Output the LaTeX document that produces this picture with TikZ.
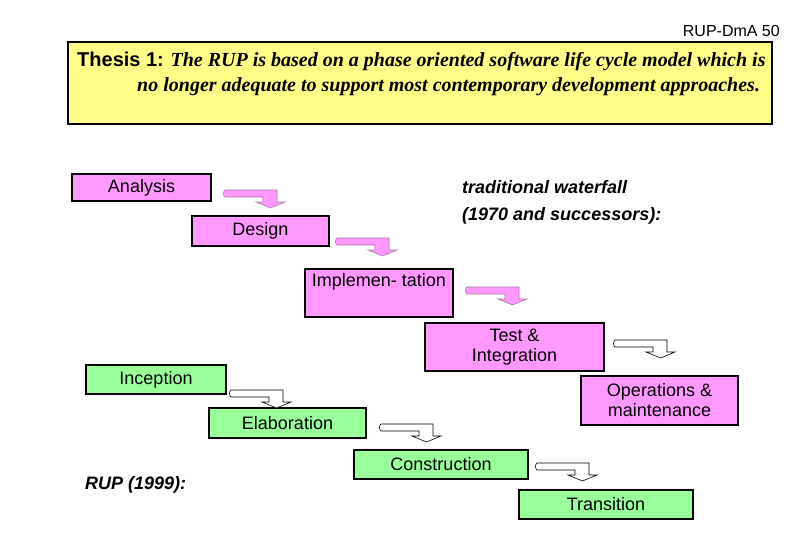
\documentclass[tikz,border=0pt]{standalone}
\usepackage{fontspec}
\setmainfont{Liberation Serif}
\setsansfont{Liberation Sans}
\definecolor{phasepink}{RGB}{255,153,255}
\definecolor{phasegreen}{RGB}{153,255,153}
\definecolor{thesisyellow}{RGB}{255,255,136}
\definecolor{arrowrim}{RGB}{165,120,165}

\begin{document}
\begin{tikzpicture}[
    x=1pt, y=-1pt,
    font=\sffamily\fontsize{18}{20}\selectfont,
    phase box/.style={
        draw=black, line width=1.6pt, inner sep=0pt, align=center
    },
    waterfall box/.style={phase box, fill=phasepink},
    rup box/.style={phase box, fill=phasegreen},
    waterfall arrow/.style={draw=arrowrim, fill=phasepink, line width=0.6pt},
    rup arrow/.style={draw=black, fill=white, line width=0.6pt},
    pics/bent arrow/.style={code={
        \draw[line join=miter, #1] (0,0) -- (52,0) -- (52,12) -- (60,12)
            -- (45.5,18) -- (31,12) -- (38,12) -- (38,7) -- (0,7)
            .. controls (-2,6) and (-2,1) .. (0,0) -- cycle;
    }}
]
    \useasboundingbox[fill=white] (0,0) rectangle (810,540);

    % slide number and thesis
    \node[anchor=base east, inner sep=0pt, font=\sffamily\fontsize{16}{18}\selectfont]
        (slideno) at (780,37) {RUP-DmA 50};
    \node[draw=black, line width=1.6pt, fill=thesisyellow, inner sep=0pt,
          minimum width=704pt, minimum height=82pt] (thesis) at (420,83) {};
    \node[anchor=base west, inner sep=0pt] (thesisA) at (77,67)
        {{\bfseries\fontsize{20}{24}\selectfont Thesis 1:}
         \rmfamily\bfseries\itshape\fontsize{20}{24}\selectfont
         The RUP is based on a phase oriented software life cycle model which is};
    \node[anchor=base west, inner sep=0pt] (thesisB) at (137,92)
        {\rmfamily\bfseries\itshape\fontsize{20}{24}\selectfont
         no longer adequate to support most contemporary development approaches.};

    % traditional waterfall
    \node[anchor=north west, inner sep=0pt, align=left,
          font=\sffamily\bfseries\itshape\fontsize{18}{27}\selectfont]
        (waterfall) at (462,180) {traditional waterfall\\(1970 and successors):};

    \node[waterfall box, minimum width=139pt, minimum height=27pt] (analysis)
        at (141.5,187.5) {Analysis};
    \node[waterfall box, minimum width=137pt, minimum height=30pt] (design)
        at (260.5,231) {Design};
    \node[waterfall box, minimum width=148pt, minimum height=48pt] (implementation)
        at (379,293) {Implemen- tation\\\strut};
    \node[waterfall box, minimum width=179pt, minimum height=48pt] (test)
        at (514.5,347) {Test \&\\Integration};
    \node[waterfall box, minimum width=157pt, minimum height=49pt] (operations)
        at (659.5,400.5) {Operations \&\\maintenance};

    \pic at (225,190) {bent arrow=waterfall arrow};
    \pic at (337,238) {bent arrow=waterfall arrow};
    \pic at (467,287) {bent arrow=waterfall arrow};
    \pic at (615,340) {bent arrow=rup arrow};

    % RUP
    \node[anchor=base west, inner sep=0pt, font=\sffamily\bfseries\itshape\fontsize{18}{20}\selectfont]
        (rup) at (85,489) {RUP (1999):};

    \node[rup box, minimum width=140pt, minimum height=29pt] (inception)
        at (156,379.5) {Inception};
    \node[rup box, minimum width=157pt, minimum height=30pt] (elaboration)
        at (287.5,423) {Elaboration};
    \node[rup box, minimum width=174pt, minimum height=29pt] (construction)
        at (441,464.5) {Construction};
    \node[rup box, minimum width=174pt, minimum height=29pt] (transition)
        at (606,504.5) {Transition};

    \pic at (231,390) {bent arrow=rup arrow};
    \pic at (381,424) {bent arrow=rup arrow};
    \pic at (537,463) {bent arrow=rup arrow};

\end{tikzpicture}
\end{document}
